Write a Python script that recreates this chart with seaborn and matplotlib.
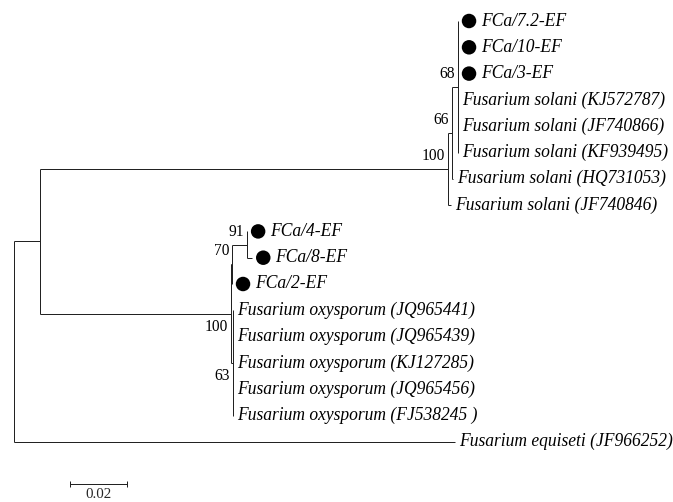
import matplotlib
matplotlib.use("Agg")
import matplotlib.pyplot as plt
import seaborn as sns
import pandas as pd

# leaves, top to bottom, with their parent node and branch length
taxa = [
    "FCa/7.2-EF", "FCa/10-EF", "FCa/3-EF",
    "Fusarium solani (KJ572787)", "Fusarium solani (JF740866)",
    "Fusarium solani (KF939495)", "Fusarium solani (HQ731053)",
    "Fusarium solani (JF740846)",
    "FCa/4-EF", "FCa/8-EF", "FCa/2-EF",
    "Fusarium oxysporum (JQ965441)", "Fusarium oxysporum (JQ965439)",
    "Fusarium oxysporum (KJ127285)", "Fusarium oxysporum (JQ965456)",
    "Fusarium oxysporum (FJ538245 )",
    "Fusarium equiseti (JF966252)",
]
taxon_parent = ["n68"] * 6 + ["n66", "s100", "n91", "n91", "n70"] + ["n63"] * 5 + ["root"]
taxon_length = [0, 0, 0, 0, 0, 0, 0.0002, 0.0010, 0, 0.0018, 0,
                0, 0, 0, 0, 0, 0.1547]

# internal nodes (parents listed before children) and bootstrap values
clades = ["A", "s100", "n66", "n68", "o100", "n70", "n91", "n63"]
clade_parent = ["root", "A", "s100", "n66", "A", "o100", "n70", "o100"]
clade_length = [0.0091, 0.1432, 0.0014, 0.0021, 0.0670, 0.0004, 0.0053, 0.0007]
clade_support = [None, 100, 66, 68, 100, 70, 91, 63]

SCALE_BAR = 0.02

sns.set_style("white")
plt.rcParams["font.family"] = ["Liberation Serif", "DejaVu Serif"]

PX = 57 / SCALE_BAR          # pixels per substitution unit
ROW = 26.3                   # pixels per leaf row
LW = 1.0
COL = "#222222"

parent = dict(zip(taxa, taxon_parent)) | dict(zip(clades, clade_parent))
length = dict(zip(taxa, taxon_length)) | dict(zip(clades, clade_length))
children = {}
for name in clades + taxa:
    children.setdefault(parent[name], []).append(name)

x = {"root": 0.0}
for name in clades + taxa:
    x[name] = x[parent[name]] + length[name]

y = {name: i for i, name in enumerate(taxa)}


def node_y(node):
    if node not in y:
        ys = [node_y(c) for c in children[node]]
        y[node] = (min(ys) + max(ys)) / 2
    return y[node]


node_y("root")

fig = plt.figure(figsize=(673 / 72, 502 / 72), dpi=72)
ax = fig.add_axes([0, 0, 1, 1])
ax.set_xlim(-14 / PX, (673 - 14) / PX)
ax.set_ylim((502 - 21) / ROW, -21 / ROW)
ax.axis("off")

# branches
for name in clades + taxa:
    ax.hlines(y[name], x[parent[name]], x[name], color=COL, lw=LW)
for node, kids in children.items():
    ys = [y[k] for k in kids]
    ax.vlines(x[node], min(ys), max(ys), color=COL, lw=LW)

# isolates from this study get a filled circle
iso = pd.DataFrame({"name": taxa, "x": [x[t] for t in taxa], "y": [y[t] for t in taxa]})
iso = iso[iso["name"].str.startswith("FCa")]
sns.scatterplot(x=iso["x"] + 11 / PX, y=iso["y"], s=210, color="black",
                edgecolor="none", ax=ax, legend=False)

for t in taxa:
    off = 23 if t.startswith("FCa") else 4
    ax.annotate(t, (x[t], y[t]), xytext=(off, 0), textcoords="offset points",
                ha="left", va="center", fontsize=17.5, style="italic", color="black")

# bootstrap values
below = {"o100", "n63"}
for c, s in zip(clades, clade_support):
    if s is None:
        continue
    dy = -13 if c not in below else 13
    ax.annotate(str(s), (x[c], y[c]), xytext=(-3, -dy), textcoords="offset points",
                ha="right", va="center", fontsize=15.5, color="black")

# scale bar
sb_x = 56 / PX
sb_y = (484 - 21) / ROW
ax.hlines(sb_y, sb_x, sb_x + SCALE_BAR, color=COL, lw=LW)
ax.vlines([sb_x, sb_x + SCALE_BAR], sb_y - 0.12, sb_y + 0.12, color=COL, lw=LW)
ax.annotate(f"{SCALE_BAR:.2f}", (sb_x + SCALE_BAR / 2, sb_y), xytext=(0, -11),
            textcoords="offset points", ha="center", va="center", fontsize=15)

fig.savefig("out.png", dpi=72)
